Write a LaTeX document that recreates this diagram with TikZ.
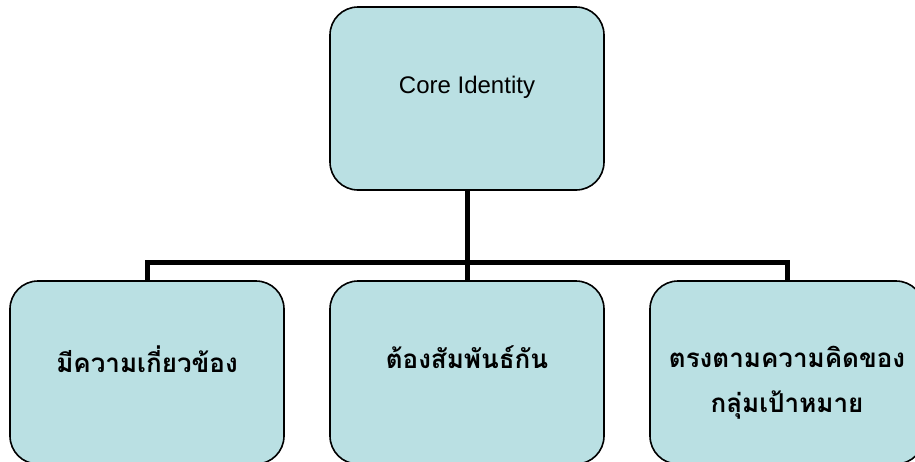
\documentclass[tikz,border=0pt]{standalone}
\usepackage{fontspec}
\setmainfont{Liberation Sans}
\newfontfamily\thaifont[Script=Thai]{Loma}
\usepackage{xcolor}
\usetikzlibrary{positioning}
\definecolor{boxfill}{RGB}{186,224,227}

\begin{document}
\begin{tikzpicture}[x=1pt, y=-1pt,
  idbox/.style={draw=black, line width=1.6pt, fill=boxfill, rounded corners=28pt,
    minimum width=274pt, minimum height=183pt, inner sep=0pt},
  idtext/.style={anchor=north, align=center, font=\thaifont\bfseries\fontsize{26}{45}\selectfont},
  bus/.style={line width=5pt}]
  \useasboundingbox (0,0) rectangle (915,461);

  % Boxes
  \node[idbox] (core) at (467,98.5) {};
  \node[idbox] (rel) at (147,372.5) {};
  \node[idbox] (link) at (467,372.5) {};
  \node[idbox] (target) at (787,372.5) {};

  % Connectors
  \coordinate (J) at (467,262);
  \draw[bus] (core.south) -- (J);
  \draw[bus] (rel.north) |- (J) -| (target.north);
  \draw[bus] (J) -- (link.north);

  % Labels
  \node[anchor=north, font=\fontsize{24}{28}\selectfont] (coreTxt) at ([yshift=-66pt]core.north) {Core Identity};
  \node[idtext] (relTxt) at ([yshift=-62pt]rel.north) {มีความเกี่ยวข้อง};
  \node[idtext] (linkTxt) at ([yshift=-62pt]link.north) {ต้องสัมพันธ์กัน};
  \node[idtext] (targetTxt) at ([yshift=-62pt]target.north) {ตรงตามความคิดของ\\กลุ่มเป้าหมาย};

\end{tikzpicture}
\end{document}
